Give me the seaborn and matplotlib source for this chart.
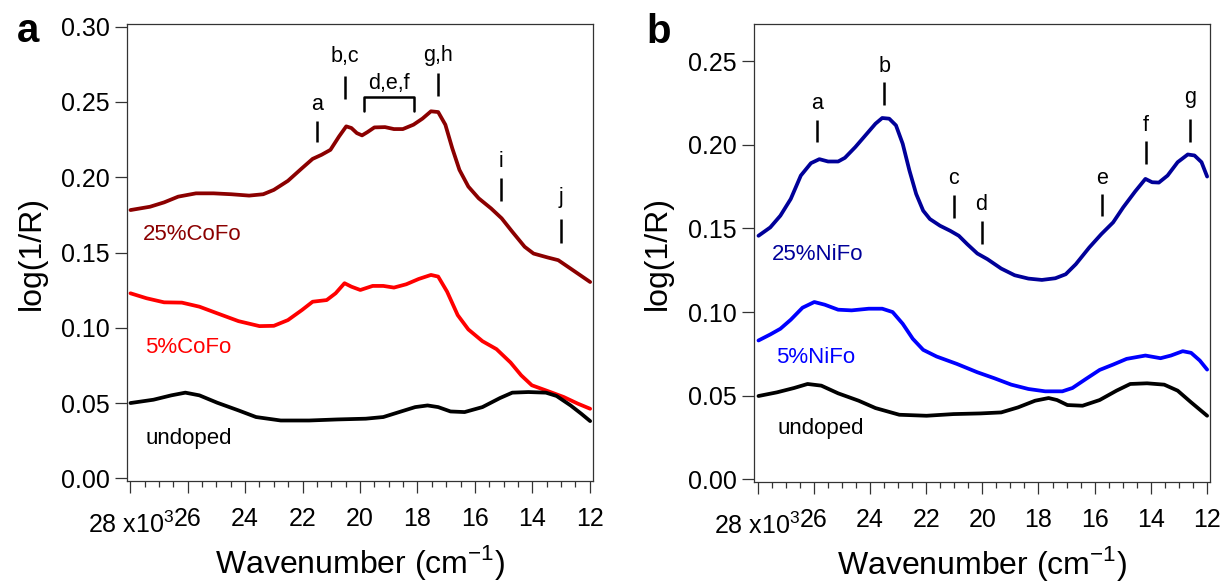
"""Diffuse reflectance spectra of doped / undoped samples (two panels)."""
import matplotlib
matplotlib.use('Agg')
import matplotlib.pyplot as plt
from matplotlib.ticker import MultipleLocator, FuncFormatter
import seaborn as sns

# ---- panel a : CoFo (wavenumber in 10^3 cm-1) -----------------------------
cofo25_wn = [27.99, 27.31, 26.82, 26.33, 25.71, 25.10, 24.48, 23.86, 23.37, 23.0, 22.51, 22.02,
             21.65, 21.34, 21.03, 20.73, 20.48, 20.30, 20.11, 19.93, 19.74, 19.50, 19.13, 18.82,
             18.51, 18.14, 17.83, 17.53, 17.28, 17.03, 16.79, 16.54, 16.23, 15.87, 15.44, 15.07,
             14.70, 14.27, 13.96, 13.47, 13.10, 12.67, 11.99]
cofo25_y = [0.1782, 0.1804, 0.1833, 0.1871, 0.1893, 0.1893, 0.1887, 0.1878, 0.1887, 0.1916, 0.1976, 0.2060,
            0.2122, 0.2149, 0.2182, 0.2271, 0.2338, 0.2327, 0.2293, 0.2278, 0.2300, 0.2331, 0.2333, 0.2320,
            0.2320, 0.2349, 0.2389, 0.2438, 0.2433, 0.2349, 0.2193, 0.2049, 0.1938, 0.1860, 0.1793, 0.1727,
            0.1638, 0.1538, 0.1493, 0.1467, 0.1449, 0.1393, 0.1304]

cofo5_wn = [27.99, 27.43, 26.82, 26.20, 25.59, 24.97, 24.23, 23.50, 23.0, 22.51, 22.02, 21.65,
            21.16, 20.85, 20.54, 20.30, 19.99, 19.56, 19.19, 18.82, 18.39, 17.96, 17.53, 17.28,
            16.97, 16.60, 16.23, 15.74, 15.25, 14.76, 14.39, 14.02, 13.53, 12.91, 12.42, 11.99]
cofo5_y = [0.1229, 0.1196, 0.1169, 0.1167, 0.1140, 0.1096, 0.1044, 0.1011, 0.1013, 0.1051, 0.1118, 0.1173,
           0.1184, 0.1229, 0.1296, 0.1273, 0.1251, 0.1278, 0.1278, 0.1267, 0.1289, 0.1324, 0.1351, 0.1340,
           0.1240, 0.1084, 0.0989, 0.0911, 0.0858, 0.0769, 0.0684, 0.0618, 0.0584, 0.0540, 0.0496, 0.0462]

undoped_a_wn = [27.99, 27.19, 26.57, 26.08, 25.59, 24.97, 24.23, 23.62, 22.76, 21.77, 20.79, 19.80,
                19.19, 18.57, 18.08, 17.65, 17.28, 16.85, 16.36, 15.74, 15.13, 14.70, 14.14, 13.53,
                13.16, 12.67, 12.30, 11.99]
undoped_a_y = [0.0500, 0.0522, 0.0551, 0.0569, 0.0551, 0.0502, 0.0451, 0.0407, 0.0384, 0.0384, 0.0391, 0.0396,
               0.0407, 0.0444, 0.0473, 0.0484, 0.0473, 0.0444, 0.0440, 0.0473, 0.0533, 0.0569, 0.0573, 0.0569,
               0.0547, 0.0484, 0.0429, 0.0380]

co_peaks = ['a', 'b,c', 'g,h', 'i', 'j']
co_peak_wn = [21.5, 20.53, 17.29, 15.11, 13.0]
co_mark_lo = [0.2231, 0.252, 0.2538, 0.1842, 0.1564]
co_mark_hi = [0.2375, 0.267, 0.2693, 0.1998, 0.172]
co_label_y = [0.2449, 0.2765, 0.2775, 0.2069, 0.1831]
co_group = 'd,e,f'
co_group_wn = [19.85, 18.13]
co_group_y = [0.2437, 0.2533]
co_group_label_y = 0.2584

# ---- panel b : NiFo -------------------------------------------------------
nifo25_wn = [27.98, 27.56, 27.20, 26.83, 26.47, 26.11, 25.81, 25.50, 25.14, 24.90, 24.53, 24.17,
             23.81, 23.57, 23.32, 23.08, 22.84, 22.60, 22.36, 22.11, 21.87, 21.51, 21.15, 20.84,
             20.54, 20.18, 19.82, 19.33, 18.85, 18.36, 17.88, 17.40, 17.03, 16.67, 16.19, 15.76,
             15.34, 14.98, 14.55, 14.19, 13.95, 13.71, 13.40, 13.04, 12.68, 12.44, 12.19, 11.99]
nifo25_y = [0.1456, 0.1506, 0.1576, 0.1676, 0.1816, 0.1890, 0.1914, 0.1900, 0.1900, 0.1922, 0.1986, 0.2056,
            0.2126, 0.2160, 0.2156, 0.2116, 0.2006, 0.1846, 0.1706, 0.1606, 0.1556, 0.1516, 0.1486, 0.1456,
            0.1406, 0.1350, 0.1316, 0.1260, 0.1220, 0.1200, 0.1192, 0.1202, 0.1226, 0.1286, 0.1386, 0.1466,
            0.1536, 0.1626, 0.1722, 0.1796, 0.1776, 0.1774, 0.1816, 0.1896, 0.1942, 0.1936, 0.1896, 0.1810]

nifo5_wn = [27.98, 27.56, 27.20, 26.83, 26.41, 25.99, 25.62, 25.14, 24.66, 24.05, 23.57, 23.20,
            22.84, 22.48, 22.11, 21.63, 20.91, 20.18, 19.57, 18.97, 18.36, 17.76, 17.15, 16.79,
            16.31, 15.82, 15.34, 14.86, 14.19, 13.65, 13.28, 12.86, 12.56, 12.25, 11.99]
nifo5_y = [0.0830, 0.0866, 0.0900, 0.0954, 0.1026, 0.1060, 0.1044, 0.1014, 0.1010, 0.1020, 0.1020, 0.1000,
           0.0930, 0.0840, 0.0774, 0.0734, 0.0690, 0.0640, 0.0604, 0.0566, 0.0540, 0.0526, 0.0526, 0.0546,
           0.0600, 0.0654, 0.0686, 0.0720, 0.0740, 0.0724, 0.0740, 0.0766, 0.0756, 0.0710, 0.0656]

undoped_b_wn = [27.98, 27.32, 26.71, 26.23, 25.74, 25.14, 24.41, 23.81, 22.96, 21.99, 21.03, 20.06,
                19.33, 18.73, 18.12, 17.64, 17.34, 16.97, 16.43, 15.82, 15.22, 14.73, 14.13, 13.52,
                13.04, 12.56, 11.99]
undoped_b_y = [0.0498, 0.0520, 0.0546, 0.0570, 0.0560, 0.0514, 0.0470, 0.0426, 0.0386, 0.0380, 0.0390, 0.0394,
               0.0400, 0.0430, 0.0470, 0.0486, 0.0474, 0.0444, 0.0440, 0.0474, 0.0530, 0.0570, 0.0574, 0.0566,
               0.0530, 0.0460, 0.0380]

ni_peaks = ['a', 'b', 'c', 'd', 'e', 'f', 'g']
ni_peak_wn = [25.88, 23.49, 21.02, 20.03, 15.72, 14.16, 12.59]
ni_mark_lo = [0.2018, 0.2238, 0.1564, 0.1404, 0.1574, 0.1884, 0.2014]
ni_mark_hi = [0.215, 0.2378, 0.1698, 0.1544, 0.1704, 0.2024, 0.2154]
ni_label_y = [0.2214, 0.2438, 0.1768, 0.1608, 0.1768, 0.2084, 0.2248]

sns.set_style('ticks')
plt.rcParams['font.family'] = ['Liberation Sans', 'DejaVu Sans']
plt.rcParams['mathtext.fontset'] = 'custom'
plt.rcParams['mathtext.rm'] = 'Liberation Sans'
for key in ['text.color', 'axes.labelcolor', 'xtick.labelcolor', 'ytick.labelcolor']:
    plt.rcParams[key] = 'black'

DARKRED, RED, NAVY, BLUE = '#8b0000', '#ff0000', '#000099', '#0000ff'
LW = 2.7

fig = plt.figure(figsize=(12.25, 5.81), dpi=100)
ax_a = fig.add_axes([0.1037, 0.1721, 0.3804, 0.7866])
ax_b = fig.add_axes([0.6155, 0.1704, 0.3722, 0.7883])


def style_axis(ax, xlim, ylim, ypad):
    ax.set_xlim(*xlim)
    ax.set_ylim(*ylim)
    ax.xaxis.set_major_locator(MultipleLocator(2))
    ax.xaxis.set_minor_locator(MultipleLocator(0.5))
    ax.yaxis.set_major_locator(MultipleLocator(0.05))
    ax.xaxis.set_major_formatter(FuncFormatter(lambda v, p: '' if v > 27.9 else f'{v:.0f}'))
    ax.yaxis.set_major_formatter(FuncFormatter(lambda v, p: f'{v:.2f}'))
    for s in ax.spines.values():
        s.set_visible(True)
        s.set_color('#333333')
        s.set_linewidth(0.9)
    ax.tick_params(axis='x', which='major', direction='out', length=8.4, width=0.9,
                   pad=10, labelsize=18, color='#333333')
    ax.tick_params(axis='x', which='minor', direction='out', length=4.3, width=0.9, color='#333333')
    ax.tick_params(axis='y', which='major', direction='out', length=8.3, width=0.9,
                   pad=4, labelsize=18, color='#333333')
    ax.set_xlabel(r'Wavenumber (cm$^{\mathregular{-1}}$)', fontsize=23, va='baseline')
    ax.xaxis.set_label_coords(0.5, -0.201)
    ax.set_ylabel('log(1/R)', fontsize=23, va='center')
    ax.yaxis.set_label_coords(ypad, 0.5)
    ax.annotate(r'28 x10$^{\mathregular{3}}$', xy=(26, -0.113), xycoords=('data', 'axes fraction'),
                xytext=(-10, 0), textcoords='offset points', ha='right', va='baseline',
                fontsize=18, annotation_clip=False)


def add_marks(ax, labels, wn, lo, hi, label_y):
    for lab, x, y0, y1, ty in zip(labels, wn, lo, hi, label_y):
        ax.plot([x, x], [y0, y1], color='black', lw=1.8, solid_capstyle='butt')
        ax.text(x, ty, lab, ha='center', va='baseline', fontsize=15.5)


# panel a
sns.lineplot(x=cofo25_wn, y=cofo25_y, ax=ax_a, color=DARKRED, lw=LW, sort=False)
sns.lineplot(x=cofo5_wn, y=cofo5_y, ax=ax_a, color=RED, lw=LW, sort=False)
sns.lineplot(x=undoped_a_wn, y=undoped_a_y, ax=ax_a, color='black', lw=LW, sort=False)
style_axis(ax_a, (28.11, 11.89), (-0.0018, 0.3018), -0.205)
add_marks(ax_a, co_peaks, co_peak_wn, co_mark_lo, co_mark_hi, co_label_y)
ax_a.plot([co_group_wn[0], co_group_wn[0], co_group_wn[1], co_group_wn[1]],
          [co_group_y[0], co_group_y[1], co_group_y[1], co_group_y[0]], color='black', lw=1.8)
ax_a.text(sum(co_group_wn) / 2, co_group_label_y, co_group, ha='center', va='baseline', fontsize=15.5)
ax_a.text(27.57, 0.1582, '25%CoFo', color=DARKRED, fontsize=16, va='baseline')
ax_a.text(27.47, 0.0831, '5%CoFo', color=RED, fontsize=16, va='baseline')
ax_a.text(27.47, 0.0231, 'undoped', color='black', fontsize=16, va='baseline')

# panel b
sns.lineplot(x=nifo25_wn, y=nifo25_y, ax=ax_b, color=NAVY, lw=LW, sort=False)
sns.lineplot(x=nifo5_wn, y=nifo5_y, ax=ax_b, color=BLUE, lw=LW, sort=False)
sns.lineplot(x=undoped_b_wn, y=undoped_b_y, ax=ax_b, color='black', lw=LW, sort=False)
style_axis(ax_b, (28.14, 11.89), (-0.0016, 0.2722), -0.21)
add_marks(ax_b, ni_peaks, ni_peak_wn, ni_mark_lo, ni_mark_hi, ni_label_y)
ax_b.text(27.52, 0.1314, '25%NiFo', color=NAVY, fontsize=16, va='baseline')
ax_b.text(27.37, 0.0694, '5%NiFo', color=BLUE, fontsize=16, va='baseline')
ax_b.text(27.31, 0.0268, 'undoped', color='black', fontsize=16, va='baseline')

fig.text(0.0139, 0.9277, 'a', fontsize=29, fontweight='bold', va='baseline')
fig.text(0.5278, 0.926, 'b', fontsize=29, fontweight='bold', va='baseline')

fig.savefig('out.png', dpi=100)
